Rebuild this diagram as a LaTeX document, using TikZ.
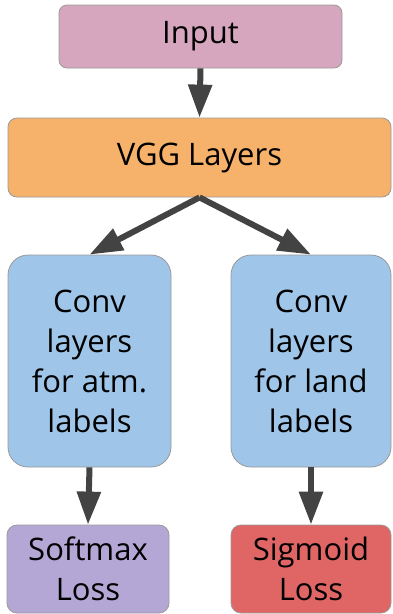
\documentclass[tikz,border=0pt]{standalone}
\usepackage{fontspec}
\setmainfont{Open Sans}
\usetikzlibrary{arrows.meta}
\definecolor{cinput}{HTML}{D5A6BD}
\definecolor{cvgg}{HTML}{F6B26B}
\definecolor{cconv}{HTML}{9FC5E8}
\definecolor{csoft}{HTML}{B4A7D6}
\definecolor{csig}{HTML}{E06666}
\definecolor{cedge}{HTML}{999999}
\definecolor{carrow}{HTML}{434343}
\tikzset{
  box/.style={draw=cedge, line width=0.8pt, inner sep=0pt, align=center,
    font=\fontsize{31}{40}\selectfont},
  flow/.style={draw=carrow, line width=6pt, -{Triangle[width=23pt,length=33pt]}}
}
\begin{document}
\begin{tikzpicture}[x=1pt,y=-1pt]
\useasboundingbox (0,0) rectangle (392,614);
\node[box, fill=cinput, rounded corners=8pt, minimum width=283pt, minimum height=63pt] (in) at (200.5,36.5) {Input};
\node[box, fill=cvgg, rounded corners=9pt, minimum width=383pt, minimum height=79pt] (vgg) at (199.5,157.5) {VGG Layers};
\node[box, fill=cconv, rounded corners=20pt, minimum width=163pt, minimum height=212pt] (c1) at (89.5,361) {Conv\\layers\\for atm.\\labels};
\node[box, fill=cconv, rounded corners=20pt, minimum width=160pt, minimum height=212pt] (c2) at (311,361) {Conv\\layers\\for land\\labels};
\node[box, fill=csoft, rounded corners=10pt, minimum width=162pt, minimum height=88pt] (l1) at (88,569) {Softmax\\Loss};
\node[box, fill=csig, rounded corners=10pt, minimum width=160pt, minimum height=88pt] (l2) at (311,569) {Sigmoid\\Loss};
\draw[flow] (in.south) -- (vgg.north);
\draw[flow] (vgg.south) -- (c1.north);
\draw[flow] (vgg.south) -- (c2.north);
\draw[flow] (c1.south) -- (l1.north);
\draw[flow] (c2.south) -- (l2.north);
\end{tikzpicture}
\end{document}
